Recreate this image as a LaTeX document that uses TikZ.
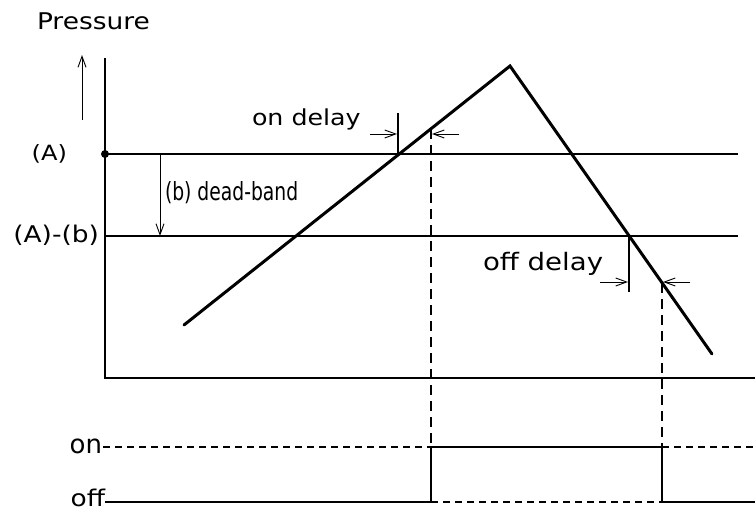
\documentclass[tikz,border=0pt]{standalone}
\usepackage{fontspec}
\setmainfont{DejaVu Sans}
\newfontfamily\plotfont[FakeStretch=1.15]{DejaVu Sans}
\newfontfamily\narrowfont[FakeStretch=0.75]{DejaVu Sans}
\usetikzlibrary{arrows.meta}
\begin{document}
\begin{tikzpicture}[x=1pt,y=-1pt,
  lbl/.style={inner sep=0pt,outer sep=0pt,text depth=0pt},
  axisline/.style={line width=2.6pt},
  levelline/.style={line width=1.8pt},
  curveline/.style={line width=3pt,line cap=round},
  tickline/.style={line width=1.8pt},
  thinarrow/.style={line width=0.9pt,-{Straight Barb[length=11pt,width=8pt,line width=0.9pt]}},
  dashv/.style={line width=2.2pt,dash pattern=on 10pt off 6pt},
  dashh/.style={line width=2.2pt,dash pattern=on 7pt off 5pt},
  stateline/.style={line width=2.6pt},
  dot/.style={circle,fill=black,inner sep=0pt,minimum size=8pt}
]
\useasboundingbox (0,0) rectangle (755,513);

% coordinates
\coordinate (axtop) at (105,58);
\coordinate (origin) at (105,378);
\coordinate (axright) at (755,378);
\coordinate (Aright) at (738,154);
\coordinate (Bleft) at (105,236);
\coordinate (Bright) at (738,236);
\coordinate (cstart) at (184,325);
\coordinate (peak) at (510,66);
\coordinate (cend) at (712,354);
\coordinate (ontickbot) at (398,154);
\coordinate (onticktop) at (398,113);
\coordinate (onpt) at (431,129);
\coordinate (offticktop) at (629,236);
\coordinate (offtickbot) at (629,292);
\coordinate (offpt) at (662,283);
\coordinate (onarrL) at (370,134);
\coordinate (onarrLtip) at (397,134);
\coordinate (onarrR) at (459,134);
\coordinate (onarrRtip) at (432,134);
\coordinate (offarrL) at (600,282);
\coordinate (offarrLtip) at (628,282);
\coordinate (offarrR) at (690,282);
\coordinate (offarrRtip) at (663,282);
\coordinate (dbtop) at (160,154);
\coordinate (dbbot) at (160,236);
\coordinate (parrbot) at (82,120);
\coordinate (parrtop) at (82,55);
\coordinate (onstart) at (103,447);
\coordinate (onA) at (431,447);
\coordinate (onB) at (662,447);
\coordinate (onend) at (755,447);
\coordinate (offstart) at (105,502);
\coordinate (offA) at (431,502);
\coordinate (offB) at (662,502);
\coordinate (offend) at (755,502);

% axes
\draw[axisline] (axtop) -- (origin) -- (axright);
\node[dot] (Adot) at (105,154) {};
\draw[levelline] (Adot.center) -- (Aright);
\draw[levelline] (Bleft) -- (Bright);

% pressure curve
\draw[curveline] (cstart) -- (peak) -- (cend);

% delay markers
\draw[tickline] (ontickbot) -- (onticktop);
\draw[tickline] (offticktop) -- (offtickbot);
\draw[thinarrow] (onarrL) -- (onarrLtip);
\draw[thinarrow] (onarrR) -- (onarrRtip);
\draw[thinarrow] (offarrL) -- (offarrLtip);
\draw[thinarrow] (offarrR) -- (offarrRtip);
\draw[thinarrow] (dbtop) -- (dbbot);
\draw[thinarrow] (parrbot) -- (parrtop);

% dashed projections
\draw[dashv] (onpt) -- (onA);
\draw[dashv] (offpt) -- (onB);

% on/off lines
\draw[dashh] (onstart) -- (onA);
\draw[stateline] (onA) -- (onB);
\draw[dashh] (onB) -- (onend);
\draw[stateline] (offstart) -- (offA);
\draw[dashh] (offA) -- (offB);
\draw[stateline] (offB) -- (offend);
\draw[levelline] (onA) -- (offA);
\draw[levelline] (onB) -- (offB);

% labels
\node[lbl,anchor=base west,font=\plotfont\fontsize{23}{27}\selectfont] (tpress) at (37,30) {Pressure};
\node[lbl,anchor=base east,font=\plotfont\fontsize{21}{25}\selectfont] (tA) at (67,161) {(A)};
\node[lbl,anchor=base east,font=\plotfont\fontsize{23}{27}\selectfont] (tAB) at (99,243) {(A)-(b)};
\node[lbl,anchor=base west,font=\plotfont\fontsize{22}{26}\selectfont] (tond) at (252,126) {on delay};
\node[lbl,anchor=base west,font=\plotfont\fontsize{24}{28}\selectfont] (toffd) at (483,270) {off delay};
\node[lbl,anchor=base west,font=\narrowfont\fontsize{25}{29}\selectfont] (tdb) at (165,201) {(b) dead-band};
\node[lbl,anchor=base east,font=\fontsize{26}{30}\selectfont] (ton) at (102,453) {on};
\node[lbl,anchor=base east,font=\plotfont\fontsize{23}{27}\selectfont] (toff) at (105,506) {off};
\end{tikzpicture}
\end{document}
